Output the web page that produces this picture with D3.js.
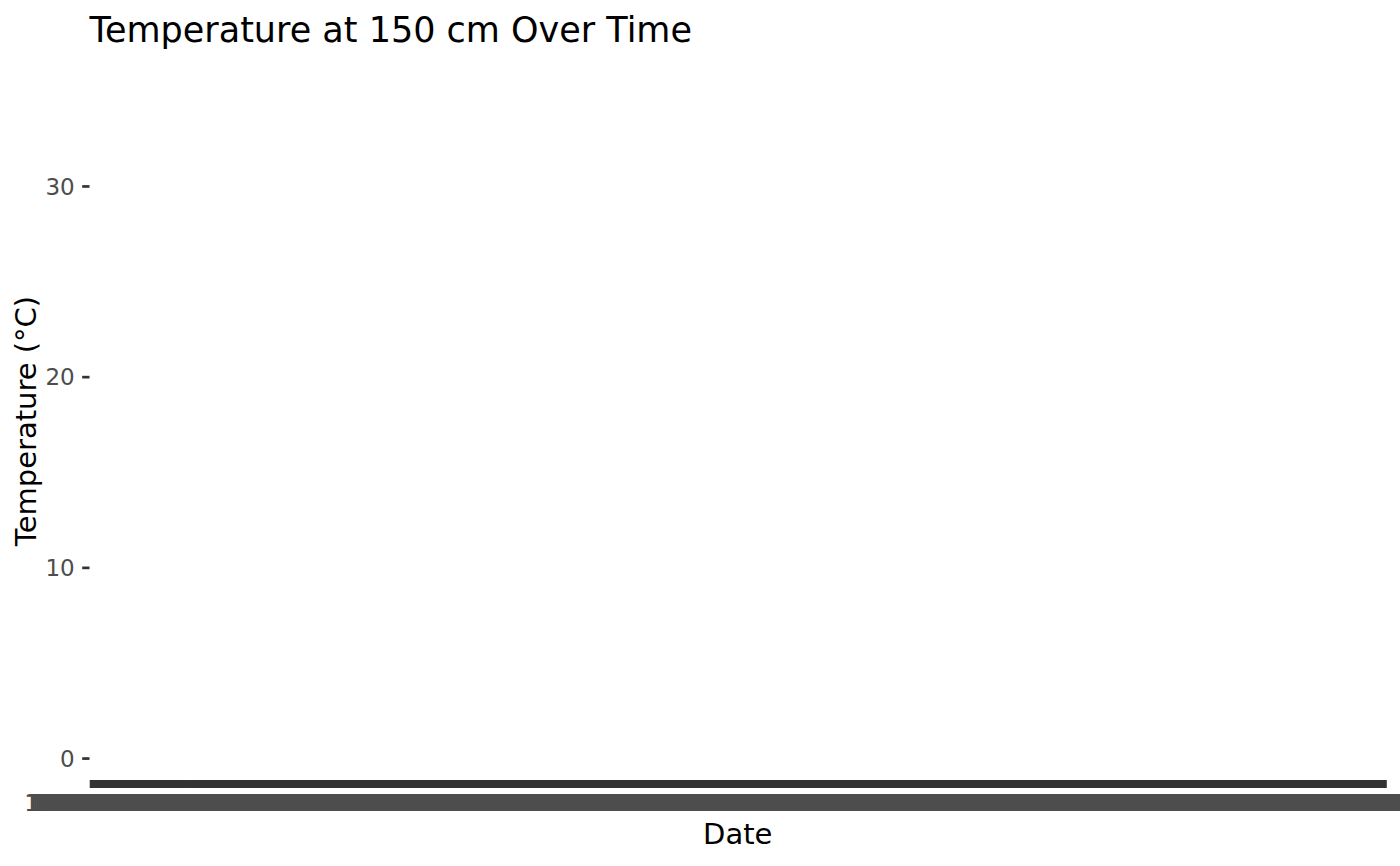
<!DOCTYPE html>
<html>
<head>
<meta charset="utf-8">
<script src="https://cdn.jsdelivr.net/npm/d3@7"></script>
<style>
  html, body { margin: 0; padding: 0; background: #ffffff; }
  svg { display: block; }
  text { font-family: "DejaVu Sans", sans-serif; }
</style>
</head>
<body>
<script>
// ---- data ----
const titleText = "Temperature at 150 cm Over Time";
const xTitle = "Date";
const yTitle = "Temperature (°C)";
// date categories (discrete x axis, one category per day)
const dateRange = ["2022-10-01", "2024-10-01"];
const dateFormat = "%m-%d-%Y";
// y axis
const yDomain = [-1.15, 36.5];
const yTicks = [0, 10, 20, 30];
// temperature series: no marks are visible in the reference panel
const temps = [];

// ---- layout ----
const W = 1400, H = 866;
const panel = { left: 89.5, right: 1386, top: 62, bottom: 780 };

const parse = d3.utcParse("%Y-%m-%d");
const fmt = d3.utcFormat(dateFormat);
const categories = d3.utcDay.range(parse(dateRange[0]), parse(dateRange[1])).map(fmt);

const svg = d3.select("body").append("svg").attr("width", W).attr("height", H);

const x = d3.scalePoint().domain(categories).range([panel.left, panel.right]).padding(0.6);
const y = d3.scaleLinear().domain(yDomain).range([panel.bottom, panel.top]);

// title
svg.append("text")
  .attr("x", panel.left).attr("y", 41.5)
  .attr("font-size", 35).attr("fill", "#000")
  .text(titleText);

// y axis
const yAxis = d3.axisLeft(y).tickValues(yTicks).tickSize(7.3).tickPadding(7.5).tickFormat(d3.format("d"));
const gy = svg.append("g").attr("transform", `translate(${panel.left},0)`).call(yAxis);
gy.select(".domain").remove();
gy.selectAll(".tick line").attr("stroke", "#333333").attr("stroke-width", 2.7);
gy.selectAll(".tick text").attr("font-size", 23).attr("fill", "#4d4d4d")
  .attr("font-family", "DejaVu Sans, sans-serif").attr("dy", "0.36em");

// x axis
const xAxis = d3.axisBottom(x).tickSize(8).tickPadding(6);
const gx = svg.append("g").attr("transform", `translate(0,${panel.bottom})`).call(xAxis);
gx.select(".domain").remove();
gx.selectAll(".tick line").attr("stroke", "#333333").attr("stroke-width", 2.7);
gx.selectAll(".tick text").attr("font-size", 23).attr("fill", "#4d4d4d")
  .attr("font-family", "DejaVu Sans, sans-serif").attr("dy", 0).attr("y", 30.8);

// (series would go here; the reference shows no visible marks)
svg.append("g").selectAll("circle").data(temps).join("circle")
  .attr("cx", d => x(d.date)).attr("cy", d => y(d.value)).attr("r", 2);

// axis titles
svg.append("text")
  .attr("x", (panel.left + panel.right) / 2).attr("y", 844)
  .attr("text-anchor", "middle").attr("font-size", 29).attr("fill", "#000")
  .text(xTitle);

svg.append("text")
  .attr("transform", `translate(36,${(panel.top + panel.bottom) / 2}) rotate(-90)`)
  .attr("text-anchor", "middle").attr("font-size", 29).attr("fill", "#000")
  .text(yTitle);
</script>
</body>
</html>
